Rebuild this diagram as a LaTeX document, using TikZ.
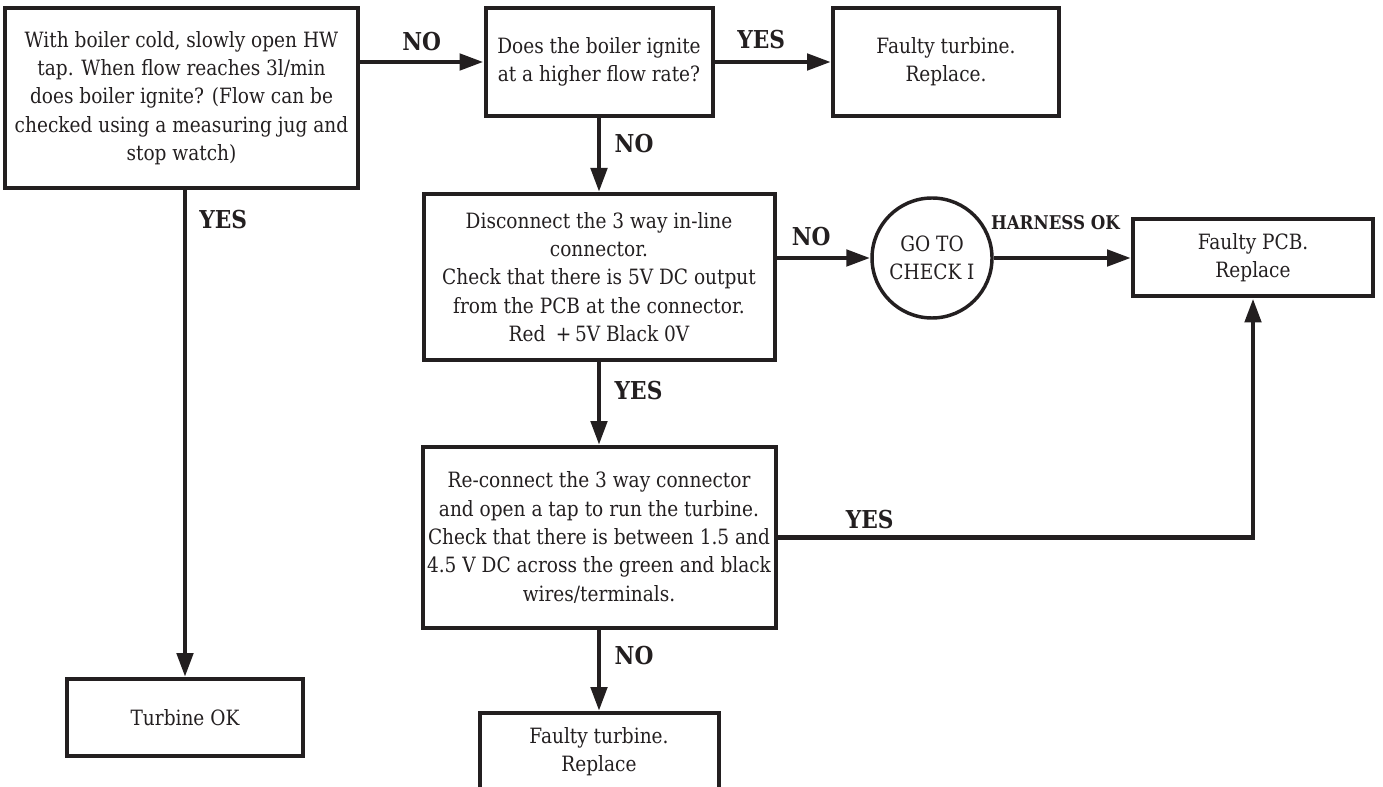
\documentclass[tikz,border=0pt]{standalone}
\usepackage{fontspec}
\setmainfont[FakeStretch=0.88]{DejaVu Serif}
\usetikzlibrary{arrows.meta}
\definecolor{ink}{RGB}{35,31,32}

\tikzset{every picture/.style={line width=0.75pt}}
\tikzset{
  box/.style={draw=ink, line width=3pt, align=center, inner sep=0pt, text=ink,
    font=\fontsize{15.8}{21.2}\selectfont},
  link/.style={draw=ink, line width=3.6pt, -{Triangle[length=18pt,width=12pt]}},
  lbl/.style={text=ink, inner sep=0pt, font=\bfseries\fontsize{18.5}{20}\selectfont}
}

\begin{document}
\begin{tikzpicture}[x=0.75pt,y=0.75pt,yscale=-1,xscale=1]
\useasboundingbox (0,0) rectangle (1383,787);

% Shape: Rectangle
\node (start) at (181.5,98) [box, minimum width=264.75pt, minimum height=135pt]
  {With boiler cold, slowly open HW\\tap. When flow reaches 3l/min\\does boiler ignite? (Flow can be\\checked using a measuring jug and\\stop watch)};
% Shape: Rectangle
\node (higher) at (599,62) [box, minimum width=170.25pt, minimum height=81pt]
  {Does the boiler ignite\\at a higher flow rate?};
% Shape: Rectangle
\node (turbA) at (946,62) [box, minimum width=169.5pt, minimum height=81pt]
  {Faulty turbine.\\Replace.};
% Shape: Rectangle
\node (disc) at (599,277) [box, minimum width=263.25pt, minimum height=124.5pt]
  {Disconnect the 3 way in-line\\connector.\\Check that there is 5V DC output\\from the PCB at the connector.\\Red\enspace+\,5V Black 0V};
% Shape: Circle
\node (chk) at (932,258) [box, circle, line width=2.6pt, minimum size=90pt]
  {GO TO\\CHECK I};
% Shape: Rectangle
\node (pcb) at (1253,258) [box, minimum width=180pt, minimum height=57.75pt]
  {Faulty PCB.\\Replace};
% Shape: Rectangle
\node (recon) at (599,537.5) [box, minimum width=264.75pt, minimum height=135.75pt]
  {Re-connect the 3 way connector\\and open a tap to run the turbine.\\Check that there is between 1.5 and\\4.5 V DC across the green and black\\wires/terminals.};
% Shape: Rectangle
\node (turbB) at (599,751.5) [box, minimum width=179.25pt, minimum height=57.75pt]
  {Faulty turbine.\\Replace};
% Shape: Rectangle
\node (ok) at (185,717.5) [box, minimum width=177pt, minimum height=57.75pt]
  {Turbine OK};

%Straight Lines
\draw [link] (start.east |- higher.west) -- node [lbl, above=6.5pt] {NO} (higher.west);
%Straight Lines
\draw [link] (higher.east) -- node [lbl, pos=0.4, above=8pt] {YES} (turbA.west);
%Straight Lines
\draw [link] (higher.south) -- node [lbl, pos=0.35, right=10pt] {NO} (disc.north);
%Straight Lines
\draw [link] (start.south -| ok.north) -- node [lbl, pos=0.06, right=9pt] {YES} (ok.north);
%Straight Lines
\draw [link] (disc.east |- chk.west) -- node [lbl, pos=0.37, above=7.5pt] {NO} (chk.west);
%Straight Lines
\draw [link] (chk.east) -- node [lbl, pos=0.45, above=19pt, font=\bfseries\fontsize{14.2}{16}\selectfont] {HARNESS OK} (pcb.west);
%Straight Lines
\draw [link] (disc.south) -- node [lbl, pos=0.34, right=10pt] {YES} (recon.north);
%Straight Lines
\draw [link] (recon.east) -| node [lbl, pos=0.097, above=5pt] {YES} (pcb.south);
%Straight Lines
\draw [link] (recon.south) -- node [lbl, pos=0.32, right=10pt] {NO} (turbB.north);

\end{tikzpicture}
\end{document}
